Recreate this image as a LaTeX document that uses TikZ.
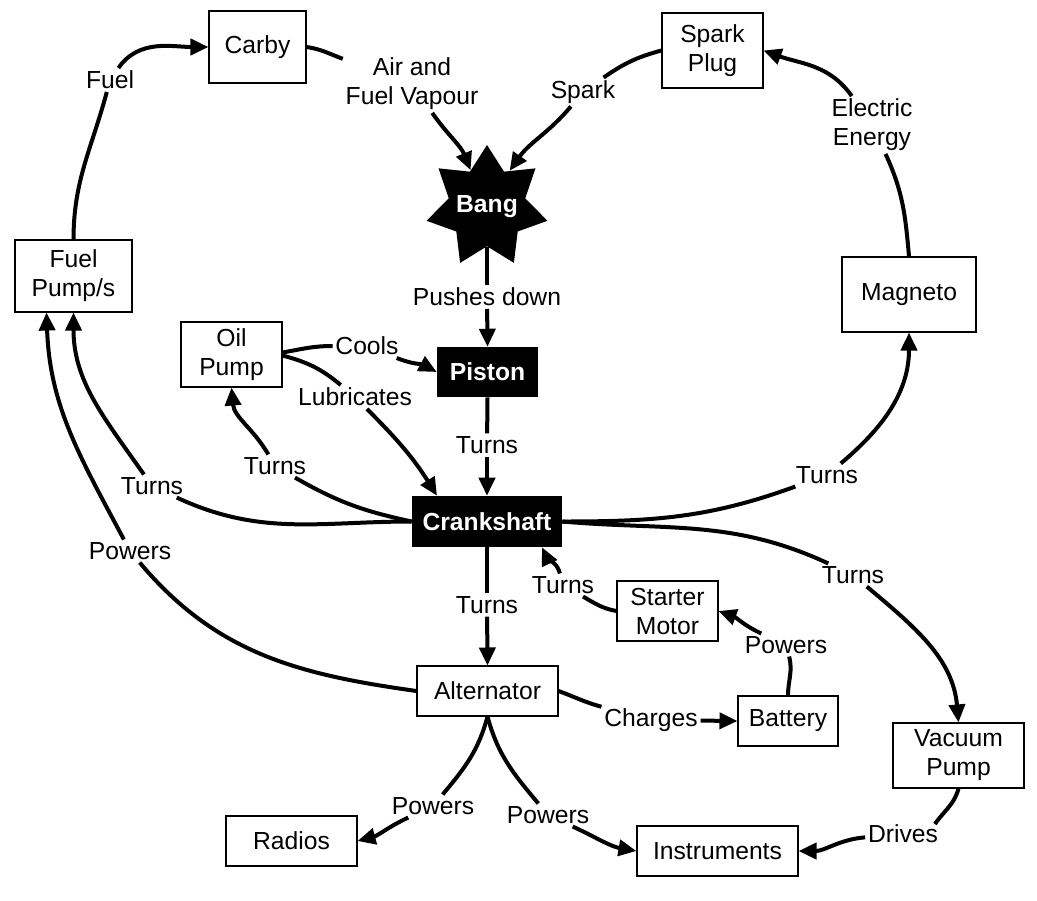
\documentclass[tikz,border=0pt]{standalone}
\usepackage{fontspec}
\setmainfont{Liberation Sans}
\usetikzlibrary{arrows.meta,shapes.geometric,calc}
\begin{document}
\begin{tikzpicture}[x=0.75pt,y=-0.75pt,
  font=\fontsize{18.5}{21.75}\selectfont,
  box/.style={draw, line width=0.8pt, align=center, inner sep=0pt},
  dark/.style={fill=black, text=white, font=\fontsize{18.5}{21.75}\selectfont\bfseries, inner sep=0pt},
  lbl/.style={align=center, inner sep=2pt},
  conn/.style={line width=3pt},
  arr/.style={line width=3pt, -{Triangle[length=13.5pt,width=12pt]}}]
\useasboundingbox (0,0) rectangle (1037,900);

% nodes
\node[box, minimum width=72.75pt, minimum height=54pt] (carby) at (257.5,47) {Carby};
\node[box, minimum width=75.75pt, minimum height=56.25pt] (spark) at (712.5,50.5) {Spark\\Plug};
\node[box, minimum width=100.5pt, minimum height=56.25pt] (mag) at (909,294.5) {Magneto};
\node[box, minimum width=87.75pt, minimum height=54pt] (fuel) at (73.5,276) {Fuel\\Pump/s};
\node[box, minimum width=75.75pt, minimum height=48.75pt] (oil) at (231.5,354.5) {Oil\\Pump};
\node[dark, minimum width=75.75pt, minimum height=37.5pt] (piston) at (487.5,372) {Piston};
\node[dark, minimum width=112.5pt, minimum height=38.25pt] (crank) at (487,521.5) {Crankshaft};
\node[box, minimum width=75.75pt, minimum height=45pt] (starter) at (667.5,611) {Starter\\Motor};
\node[box, minimum width=75pt, minimum height=37.5pt] (battery) at (788,721) {Battery};
\node[box, minimum width=98.25pt, minimum height=48.75pt] (vac) at (958.5,755.5) {Vacuum\\Pump};
\node[box, minimum width=120.75pt, minimum height=37.5pt] (ins) at (717.5,851) {Instruments};
\node[box, minimum width=105.75pt, minimum height=37.5pt] (alt) at (487.5,691) {Alternator};
\node[box, minimum width=98.25pt, minimum height=37.5pt] (radios) at (291.5,841) {Radios};
\node[star, star points=7, star point ratio=1.58, fill=black, minimum size=93pt, inner sep=0pt] (bang) at (487,207) {};
\node[text=white, font=\fontsize{18.5}{21.75}\selectfont\bfseries, inner sep=0pt] (bangtxt) at (bang.center) {Bang};

% labels
\node[lbl] (lfuel) at (110,80) {Fuel};
\node[lbl] (lair) at (412,84) {Air and\\Fuel Vapour};
\node[lbl] (lspark) at (583,92) {Spark};
\node[lbl] (lelec) at (872,125) {Electric\\Energy};
\node[lbl] (lpush) at (487,297) {Pushes down};
\node[lbl] (lcools) at (367,346) {Cools};
\node[lbl] (llub) at (355,397) {Lubricates};
\node[lbl] (lturnpc) at (487,445) {Turns};
\node[lbl] (lturnoil) at (275,466) {Turns};
\node[lbl] (lturnfuel) at (152,486) {Turns};
\node[lbl] (lpowfuel) at (130,551) {Powers};
\node[lbl] (lturnmag) at (827,475) {Turns};
\node[lbl] (lturnvac) at (853,575) {Turns};
\node[lbl] (lturnstart) at (563,585) {Turns};
\node[lbl] (lturnalt) at (487,605) {Turns};
\node[lbl] (lpowbat) at (786,645) {Powers};
\node[lbl] (lcharges) at (651,720) {Charges};
\node[lbl] (lpowrad) at (433,806) {Powers};
\node[lbl] (lpowins) at (548,815) {Powers};
\node[lbl] (ldrives) at (903,834) {Drives};

% connectors
\draw[conn] (fuel.north) to[out=90,in=-105] (lfuel);
\draw[arr] (lfuel) to[out=55,in=180] (carby.west);

\draw[conn] (carby.east) to[out=-8,in=160] (lair);
\draw[arr] (lair) to[out=-55,in=112] (bang.114);

\draw[conn] (spark.west) to[out=195,in=35] (lspark);
\draw[arr] (lspark) to[out=-130,in=55] (bang.58);

\draw[conn] (mag.north) to[out=95,in=-65] (lelec);
\draw[arr] (lelec) to[out=125,in=-20] (spark.east);

\draw[conn] (bang.south) -- (lpush);
\draw[arr] (lpush) -- (piston.north);

\draw[conn] (piston.south) -- (lturnpc);
\draw[arr] (lturnpc) -- (crank.north);

\draw[conn] ($(oil.east)+(0,-2)$) to[out=10,in=180] (lcools);
\draw[arr] (lcools) to[out=-22,in=152] (piston.west);

\draw[conn] ($(oil.east)+(0,1)$) to[out=-15,in=140] (llub);
\draw[arr] (llub) to[out=-45,in=122] ($(crank.north)+(-50,0)$);

\draw[conn] (crank.west) to[out=168,in=-30] (lturnoil);
\draw[arr] (lturnoil) to[out=120,in=-85] (oil.south);

\draw[conn] (crank.west) to[out=180,in=-25] (lturnfuel);
\draw[arr] (lturnfuel) to[out=125,in=-90] (fuel.south);

\draw[conn] (alt.west) to[out=172,in=-50] (lpowfuel);
\draw[arr] (lpowfuel) to[out=118,in=-88] ($(fuel.south)+(-27,0)$);

\draw[conn] (crank.east) to[out=0,in=-160] (lturnmag);
\draw[arr] (lturnmag) to[out=40,in=-90] (mag.south);

\draw[conn] (crank.east) to[out=-5,in=155] (lturnvac);
\draw[arr] (lturnvac) to[out=-40,in=95] (vac.north);

\draw[conn] (crank.south) -- (lturnalt);
\draw[arr] (lturnalt) -- (alt.north);

\draw[conn] (starter.west) to[out=170,in=-30] (lturnstart);
\draw[arr] (lturnstart) to[out=105,in=-65] ($(crank.south)+(55,0)$);

\draw[conn] (battery.north) to[out=90,in=-75] (lpowbat);
\draw[arr] (lpowbat) to[out=155,in=-20] (starter.east);

\draw[conn] (alt.east) to[out=-20,in=165] (lcharges);
\draw[arr] (lcharges) -- (battery.west);

\draw[conn] (alt.south) to[out=-105,in=50] (lpowrad);
\draw[arr] (lpowrad) to[out=-155,in=15] (radios.east);

\draw[conn] (alt.south) to[out=-75,in=130] (lpowins);
\draw[arr] (lpowins) to[out=-25,in=170] (ins.west);

\draw[conn] (vac.south) to[out=-105,in=55] ($(ldrives.north east)+(-6,2)$);
\draw[arr] (ldrives) to[out=185,in=0] (ins.east);
\end{tikzpicture}
\end{document}
